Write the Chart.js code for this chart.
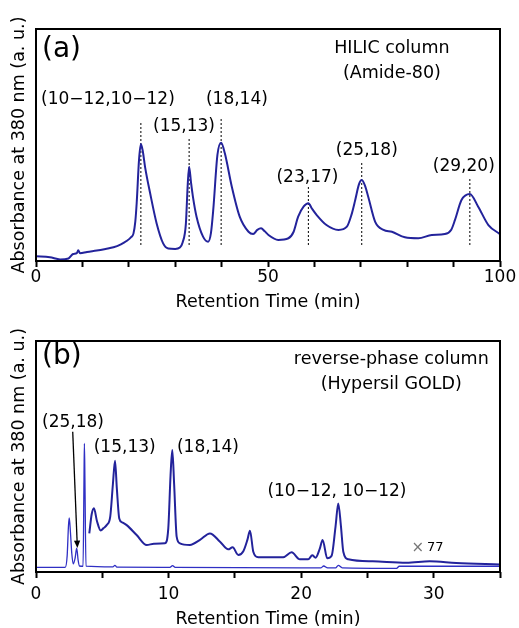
<!DOCTYPE html>
<html>
<head>
<meta charset="utf-8">
<script src="https://cdn.jsdelivr.net/npm/chart.js@4.4.0/dist/chart.umd.min.js"></script>
<style>
  html, body { margin: 0; padding: 0; background: #fff; overflow: hidden; }
  #chartA { position: absolute; left: 0; top: 0; }
  #chartB { position: absolute; left: 0; top: 310px; }
</style>
</head>
<body>
<canvas id="chartA" width="519" height="320"></canvas>
<canvas id="chartB" width="519" height="330"></canvas>
<script>
  const FONT = "'DejaVu Sans', sans-serif";
  const LINE_BLUE = "#23239b";

  // ---------------------------
  // (a) HILIC column data
  // ---------------------------
  const hilicTime = [0, 3.0, 5.2, 7.0, 8.0, 8.8, 9.1, 9.5, 11.0, 13.1, 15.0, 16.7, 18.3, 19.5, 20.5, 21.0, 21.4, 21.7, 22.2, 22.6,
    23.0, 23.5, 24.6, 26.0, 27.4, 28.5, 30.0, 31.0, 31.6, 32.3, 32.7, 33.0, 33.4, 33.8, 34.6, 36.0, 37.1, 37.7, 38.2, 39.1,
    39.9, 40.7, 42.2, 43.9, 45.8, 46.8, 47.7, 48.5, 49.3, 50.1, 52.2, 54.4, 55.5, 56.5, 57.7, 58.7, 59.5, 60.5, 62.6, 65.2,
    67.0, 68.0, 68.8, 69.6, 70.2, 70.9, 71.6, 73.1, 74.9, 76.7, 79.5, 82.4, 85.3, 88.1, 89.5, 90.3, 91.7, 93.5, 95.3, 97.5, 100];
  const hilicAbs = [2.0, 1.6, 0.7, 1.1, 3.0, 3.4, 4.6, 3.3, 3.9, 4.5, 5.2, 5.9, 7.2, 8.6, 10.3, 11.8, 17, 25, 43.5, 50.4,
    47.5, 40.6, 29.2, 16.2, 7.6, 5.4, 5.2, 5.8, 8, 16, 33, 40.6, 34, 28, 19.1, 10.5, 8.3, 12, 22, 45.7,
    51.0, 46.4, 32, 19.1, 12.6, 11.6, 13.4, 14.1, 12.8, 11.2, 9.1, 9.8, 12.5, 19.1, 23.5, 24.9, 22.5, 19.8, 15.5, 13.4,
    14.8, 20, 26.3, 33, 34.9, 32.5, 27.7, 16.9, 13.4, 12.6, 10.2, 9.8, 11.2, 11.6, 13.5, 17.7, 26.3, 28.9, 23.4, 15.5, 11.6];

  const hilicPeakTime = [22.6, 33.0, 39.9, 58.7, 70.2, 93.5];
  const hilicMarkTop = [60.3, 53, 61.6, 31.9, 42.7, 35.8];
  const hilicMarkBottom = 6.9;
  const hilicPeakLabel = ["(10\u221212,10\u221212)", "(15,13)", "(18,14)", "(23,17)", "(25,18)", "(29,20)"];
  const hilicLabelX = [15.5, 31.9, 43.3, 58.5, 71.3, 92.2];
  const hilicLabelY = [69.4, 57.8, 69.4, 35.8, 47.8, 40.5];
  const hilicTickLabels = [0, 50, 100];

  // ---------------------------
  // (b) reverse-phase column data
  // ---------------------------
  // x1 trace
  const rpTime1 = [0, 2.2, 2.35, 2.45, 2.51, 2.6, 2.7, 2.81, 2.95, 3.07, 3.18, 3.28, 3.55, 3.62, 3.65, 3.69, 3.77, 5.8, 5.95, 6.1,
    10.1, 10.3, 10.5, 21.5, 21.7, 22.0, 22.6, 22.8, 23.1, 27.2, 27.4, 35];
  const rpAbs1 = [2.0, 2.0, 7, 20, 23.4, 17, 8, 3.5, 6, 10.3, 5, 2.6, 2.5, 40, 55.7, 40, 2.5, 2.2, 2.9, 2.1,
    2.0, 2.8, 2.0, 1.8, 2.6, 1.8, 1.8, 2.9, 1.8, 1.6, 2.5, 2.5];
  // x77 trace
  const rpTime77 = [4.02, 4.2, 4.37, 4.6, 4.88, 5.1, 5.33, 5.6, 5.8, 5.96, 6.1, 6.28, 6.5, 6.84, 7.59, 8.35, 8.9, 9.73, 9.98, 10.15,
    10.28, 10.42, 10.61, 10.86, 11.61, 12.37, 13.12, 13.88, 14.5, 14.83, 15.26, 15.64, 15.95, 16.14, 16.39, 16.77, 18.65, 19.28, 19.9, 20.53,
    20.84, 21.09, 21.4, 21.62, 21.97, 22.3, 22.6, 22.8, 23.0, 23.18, 23.56, 25.4, 27.95, 29.7, 31.7, 35];
  const rpAbs77 = [16.7, 25, 27.6, 22, 18.0, 19, 20.3, 24, 38, 48.2, 36, 23.2, 21.5, 20.3, 16.0, 11.7, 12.2, 12.4, 19, 42,
    52.8, 38, 15.3, 12.4, 11.7, 13.9, 16.7, 13.1, 9.8, 10.7, 7.4, 9, 14, 17.9, 8.8, 6.4, 6.4, 8.5, 5.5, 5.5,
    7.2, 6.2, 10, 13.9, 5.9, 7, 20, 29.7, 20, 8.8, 5.5, 4.6, 4.0, 4.6, 3.9, 3.3];

  const rpPeakLabel = ["(25,18)", "(15,13)", "(18,14)", "(10\u221212, 10\u221212)"];
  const rpLabelX = [2.79, 6.69, 12.97, 22.7];
  const rpLabelY = [64.5, 53.7, 53.7, 34.8];
  const rpArrowFrom = [2.77, 60.7];
  const rpArrowTo = [3.12, 10.4];
  const rpTickLabels = [0, 10, 20, 30];

  function toPoints(xs, ys) {
    return xs.map((x, i) => ({ x: x, y: ys[i] }));
  }

  // ---------------------------
  // Overlay: frame, texts, arrow
  // ---------------------------
  function makeOverlay(texts, arrow) {
    return {
      id: "overlay",
      afterDatasetsDraw(chart) {
        const ctx = chart.ctx;
        const a = chart.chartArea;
        const xs = chart.scales.x;
        const ys = chart.scales.y;
        ctx.save();
        ctx.strokeStyle = "#000";
        ctx.lineWidth = 2;
        ctx.strokeRect(a.left, a.top, a.right - a.left, a.bottom - a.top);

        texts.forEach((t) => {
          ctx.font = t.font;
          ctx.fillStyle = t.color || "#000";
          ctx.textAlign = t.align || "center";
          ctx.textBaseline = "middle";
          ctx.fillText(t.text, xs.getPixelForValue(t.x), ys.getPixelForValue(t.y));
        });

        if (arrow) {
          const x1 = xs.getPixelForValue(arrow[0][0]);
          const y1 = ys.getPixelForValue(arrow[0][1]);
          const x2 = xs.getPixelForValue(arrow[1][0]);
          const y2 = ys.getPixelForValue(arrow[1][1]);
          const ang = Math.atan2(y2 - y1, x2 - x1);
          const len = 8;
          ctx.strokeStyle = "#000";
          ctx.lineWidth = 1.3;
          ctx.beginPath();
          ctx.moveTo(x1, y1);
          ctx.lineTo(x2 - Math.cos(ang) * len * 0.8, y2 - Math.sin(ang) * len * 0.8);
          ctx.stroke();
          ctx.fillStyle = "#000";
          ctx.beginPath();
          ctx.moveTo(x2, y2);
          ctx.lineTo(x2 - len * Math.cos(ang - 0.4), y2 - len * Math.sin(ang - 0.4));
          ctx.lineTo(x2 - len * Math.cos(ang + 0.4), y2 - len * Math.sin(ang + 0.4));
          ctx.closePath();
          ctx.fill();
        }
        ctx.restore();
      }
    };
  }

  function baseOptions(cfg) {
    return {
      responsive: false,
      animation: false,
      layout: { padding: { left: 9, right: 19, top: cfg.padTop, bottom: cfg.padBottom } },
      plugins: { legend: { display: false }, tooltip: { enabled: false } },
      elements: { point: { radius: 0 } },
      scales: {
        x: {
          type: "linear",
          min: 0,
          max: cfg.xMax,
          ticks: {
            stepSize: cfg.step,
            autoSkip: false,
            maxRotation: 0,
            padding: cfg.tickPad,
            color: "#000",
            font: { family: FONT, size: 17 },
            callback: (v) => (cfg.labeled.includes(v) ? String(v) : "")
          },
          grid: { drawOnChartArea: false, drawTicks: true, tickLength: 6, tickWidth: 2, tickColor: "#000", color: "#000" },
          border: { display: false },
          title: {
            display: true,
            text: "Retention Time (min)",
            color: "#000",
            font: { family: FONT, size: 17.5 },
            padding: { top: 0, bottom: 4 }
          },
          afterFit: (s) => { s.height = cfg.xHeight; }
        },
        y: {
          min: 0,
          max: 100,
          ticks: { display: false },
          grid: { display: false, drawTicks: false },
          border: { display: false },
          title: {
            display: true,
            text: "Absorbance at 380 nm (a. u.)",
            color: "#000",
            font: { family: FONT, size: 17.5 },
            padding: { top: 0, bottom: 0 }
          },
          afterFit: (s) => { s.width = 27; }
        }
      }
    };
  }

  // ---------------------------
  // Chart (a)
  // ---------------------------
  const hilicSets = [
    {
      data: toPoints(hilicTime, hilicAbs),
      borderColor: LINE_BLUE,
      borderWidth: 2,
      cubicInterpolationMode: "monotone",
      pointRadius: 0,
      fill: false
    }
  ];
  hilicPeakTime.forEach((t, i) => {
    hilicSets.push({
      data: [{ x: t, y: hilicMarkBottom }, { x: t, y: hilicMarkTop[i] }],
      borderColor: "#000",
      borderWidth: 1,
      borderDash: [2, 2],
      tension: 0,
      pointRadius: 0,
      fill: false
    });
  });

  const textsA = [
    { text: "(a)", x: 1.3, y: 91, align: "left", font: "28px " + FONT },
    { text: "HILIC column", x: 76.7, y: 91.8, font: "17.5px " + FONT },
    { text: "(Amide-80)", x: 76.7, y: 81, font: "17.5px " + FONT }
  ];
  hilicPeakLabel.forEach((s, i) => {
    textsA.push({ text: s, x: hilicLabelX[i], y: hilicLabelY[i], font: "17px " + FONT });
  });

  new Chart(document.getElementById("chartA"), {
    type: "line",
    data: { datasets: hilicSets },
    options: baseOptions({ padTop: 29, padBottom: 3.5, xHeight: 55.5, xMax: 100, step: 10, tickPad: 0, labeled: hilicTickLabels }),
    plugins: [makeOverlay(textsA, null)]
  });

  // ---------------------------
  // Chart (b)
  // ---------------------------
  const rpSets = [
    {
      data: toPoints(rpTime77, rpAbs77),
      borderColor: LINE_BLUE,
      borderWidth: 2,
      cubicInterpolationMode: "monotone",
      pointRadius: 0,
      fill: false
    },
    {
      data: toPoints(rpTime1, rpAbs1),
      borderColor: "#2f2fc4",
      borderWidth: 1.3,
      cubicInterpolationMode: "monotone",
      pointRadius: 0,
      fill: false
    }
  ];

  const textsB = [
    { text: "(b)", x: 0.45, y: 93, align: "left", font: "28px " + FONT },
    { text: "reverse-phase column", x: 26.8, y: 92.2, font: "17.5px " + FONT },
    { text: "(Hypersil GOLD)", x: 26.8, y: 81.4, font: "17.5px " + FONT },
    { text: "\u00d7", x: 28.8, y: 10.4, font: "15px " + FONT, color: "#777" },
    { text: "77", x: 29.5, y: 10.4, align: "left", font: "13px " + FONT }
  ];
  rpPeakLabel.forEach((s, i) => {
    textsB.push({ text: s, x: rpLabelX[i], y: rpLabelY[i], font: "17px " + FONT });
  });

  new Chart(document.getElementById("chartB"), {
    type: "line",
    data: { datasets: rpSets },
    options: baseOptions({ padTop: 31, padBottom: 6.5, xHeight: 61.5, xMax: 35, step: 5, tickPad: 6, labeled: rpTickLabels }),
    plugins: [makeOverlay(textsB, [rpArrowFrom, rpArrowTo])]
  });
</script>
</body>
</html>
